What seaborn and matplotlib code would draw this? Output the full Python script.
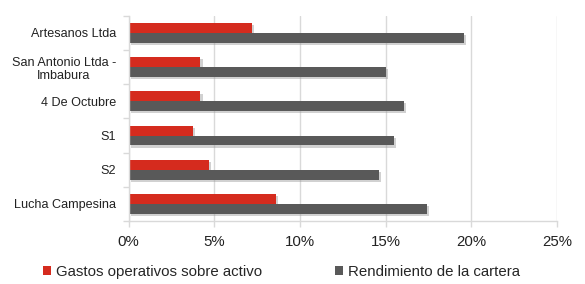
import matplotlib
matplotlib.use("Agg")
import matplotlib.pyplot as plt
import matplotlib.patheffects as pe
from matplotlib.patches import Patch
from matplotlib.ticker import FuncFormatter, FixedLocator
import pandas as pd
import seaborn as sns


cooperativas = [
    "Artesanos Ltda",
    "San Antonio Ltda -\nImbabura",
    "4 De Octubre",
    "S1",
    "S2",
    "Lucha Campesina",
]
gastos_operativos = [7.2, 4.2, 4.2, 3.75, 4.7, 8.6]
rendimiento_cartera = [19.6, 15.0, 16.1, 15.5, 14.6, 17.4]
series_names = ["Gastos operativos sobre activo", "Rendimiento de la cartera"]
series_colors = ["#D52B1E", "#595959"]


def build_frame() -> pd.DataFrame:
    rows = []
    for name, values in zip(series_names, [gastos_operativos, rendimiento_cartera]):
        for coop, val in zip(cooperativas, values):
            rows.append({"Cooperativa": coop, "Serie": name, "Valor": val})
    return pd.DataFrame(rows)


def main() -> None:
    sns.set_theme(style="white")
    plt.rcParams["font.family"] = ["Liberation Sans", "DejaVu Sans"]

    df = build_frame()
    fig = plt.figure(figsize=(5.85, 2.84), dpi=100)
    ax = fig.add_axes([0.2197, 0.222, 0.7323, 0.722])

    sns.barplot(
        data=df,
        y="Cooperativa",
        x="Valor",
        hue="Serie",
        order=cooperativas,
        hue_order=series_names,
        palette=series_colors,
        width=0.58,
        saturation=1,
        orient="h",
        legend=False,
        ax=ax,
    )

    # soft drop shadow like the original office chart
    shadow = [pe.SimplePatchShadow(offset=(1.5, -1.5), shadow_rgbFace="#999999", alpha=0.45), pe.Normal()]
    for patch in ax.patches:
        patch.set_edgecolor("none")
        patch.set_path_effects(shadow)

    ax.set_xlim(0, 25)
    ax.set_ylim(len(cooperativas) - 0.5, -0.5)
    ax.xaxis.set_major_locator(FixedLocator([0, 5, 10, 15, 20, 25]))
    ax.xaxis.set_major_formatter(FuncFormatter(lambda v, _: f"{v:.0f}%"))
    ax.grid(axis="x", color="#D9D9D9", linewidth=1)
    ax.set_axisbelow(True)
    ax.set_xlabel("")
    ax.set_ylabel("")

    for side in ["top", "right"]:
        ax.spines[side].set_visible(False)
    for side in ["left", "bottom"]:
        ax.spines[side].set_color("#D9D9D9")
        ax.spines[side].set_linewidth(1)

    ax.tick_params(axis="x", labelsize=10.8, colors="#D9D9D9", labelcolor="#222222",
                   length=4, width=1, direction="out", bottom=True, pad=6)
    ax.tick_params(axis="y", which="major", labelsize=9.1, labelcolor="#222222", length=0, pad=9)
    ax.yaxis.set_minor_locator(FixedLocator([i - 0.5 for i in range(len(cooperativas) + 1)]))
    ax.tick_params(axis="y", which="minor", length=4, width=1, colors="#D9D9D9", left=True)
    for label in ax.get_yticklabels():
        label.set_horizontalalignment("right")
        label.set_multialignment("center")

    handles = [Patch(facecolor=c, edgecolor="none") for c in series_colors]
    fig.legend(
        handles,
        series_names,
        loc="center left",
        bbox_to_anchor=(0.05, 0.043),
        ncol=2,
        frameon=False,
        fontsize=10.8,
        handlelength=0.55,
        handleheight=0.55,
        handletextpad=0.3,
        columnspacing=4.9,
    )

    fig.savefig("out.png", dpi=100)
    plt.close(fig)


if __name__ == "__main__":
    main()
